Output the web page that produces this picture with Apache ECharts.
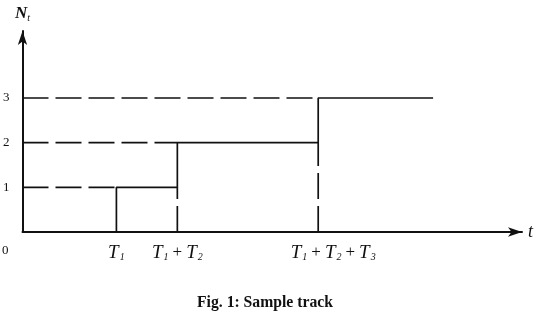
<!DOCTYPE html>
<html>
<head>
<meta charset="utf-8">
<script src="https://cdn.jsdelivr.net/npm/echarts@6/dist/echarts.min.js"></script>
<style>
  html, body { margin: 0; padding: 0; background: #fff; }
  #chart { width: 546px; height: 312px; }
</style>
</head>
<body>
<div id="chart"></div>
<script>
// levels of N_t and the times at which each jump happens (x in arbitrary units 0..100)
const levels = [1, 2, 3]
const jumpTimes = [18.8, 31, 59.2]
const trackEnd = 82.2
const yTicks = [1, 2, 3]
const timeLabels = ['T1', 'T1+T2', 'T1+T2+T3']

const SERIF = '"Liberation Serif", "DejaVu Serif", serif'
const INK = '#111'

// solid sample track: vertical at each jump, horizontal up to the next jump
const track = []
jumpTimes.forEach((t, i) => {
  track.push([t, i === 0 ? 0 : levels[i - 1]])
  track.push([t, levels[i]])
})
track.push([trackEnd, levels[levels.length - 1]])

// dashed guides: from y axis to the jump, and from x axis up to the previous level
const guides = []
jumpTimes.forEach((t, i) => {
  guides.push([[0, levels[i]], [t, levels[i]]])
  if (i > 0) guides.push([[t, 0], [t, levels[i - 1]]])
})

const sub = { fontFamily: SERIF, fontStyle: 'italic', fontSize: 10, color: INK, padding: [9, 0, 0, 1] }
const big = { fontFamily: SERIF, fontStyle: 'italic', fontSize: 19, color: INK }
const plus = { fontFamily: SERIF, fontSize: 17, color: INK, padding: [0, 4, 0, 4] }

function timeRich(label, idx) {
  const parts = label.split('+').map(p => '{T|T}{s|' + p.slice(1) + '}')
  let txt = parts.join('{p|+}')
  if (idx === 2) txt = '{pad|}' + txt
  return txt
}

const chart = echarts.init(document.getElementById('chart'))

const series = [{
  type: 'line',
  data: track,
  symbol: 'none',
  lineStyle: { color: INK, width: 1.7 },
  silent: true
}].concat(guides.map(seg => ({
  type: 'line',
  data: seg,
  symbol: 'none',
  lineStyle: { color: INK, width: 1.7, type: [26, 7] },
  silent: true
})))

chart.setOption({
  animation: false,
  title: {
    text: 'Fig. 1: Sample track',
    left: 192,
    top: 290,
    textStyle: { fontFamily: SERIF, fontWeight: 'bold', fontSize: 15.7, color: INK }
  },
  grid: { left: 22, right: 24, top: 31, bottom: 80 },
  xAxis: {
    type: 'value',
    min: 0,
    max: 100,
    name: 't',
    nameGap: 6,
    nameTextStyle: { fontFamily: SERIF, fontStyle: 'italic', fontSize: 18, color: INK, verticalAlign: 'middle' },
    axisLine: { lineStyle: { color: INK, width: 2 }, symbol: ['none', 'arrow'], symbolSize: [7, 14] },
    axisTick: { show: false },
    splitLine: { show: false },
    axisLabel: {
      customValues: jumpTimes,
      margin: 11,
      formatter: v => timeRich(timeLabels[jumpTimes.indexOf(v)], jumpTimes.indexOf(v)),
      rich: { T: big, s: sub, p: plus, pad: { width: 30 } }
    }
  },
  yAxis: {
    type: 'value',
    min: 0,
    max: 4.5,
    name: '{N|N}{t|t}',
    nameGap: 8,
    nameLocation: 'end',
    nameTextStyle: {
      rich: {
        N: { fontFamily: SERIF, fontStyle: 'italic', fontWeight: 'bold', fontSize: 17, color: INK },
        t: { fontFamily: SERIF, fontStyle: 'italic', fontSize: 10, color: INK, padding: [8, 0, 0, 0] }
      }
    },
    axisLine: { show: true, lineStyle: { color: INK, width: 2 }, symbol: ['none', 'arrow'], symbolSize: [7, 14] },
    axisTick: { show: false },
    splitLine: { show: false },
    axisLabel: {
      customValues: yTicks,
      margin: 13,
      fontFamily: SERIF,
      fontSize: 13,
      color: INK
    }
  },
  graphic: [{
    type: 'text',
    left: 2,
    top: 244,
    style: { text: '0', font: '13px ' + SERIF, fill: INK }
  }],
  series: series
})
</script>
</body>
</html>
